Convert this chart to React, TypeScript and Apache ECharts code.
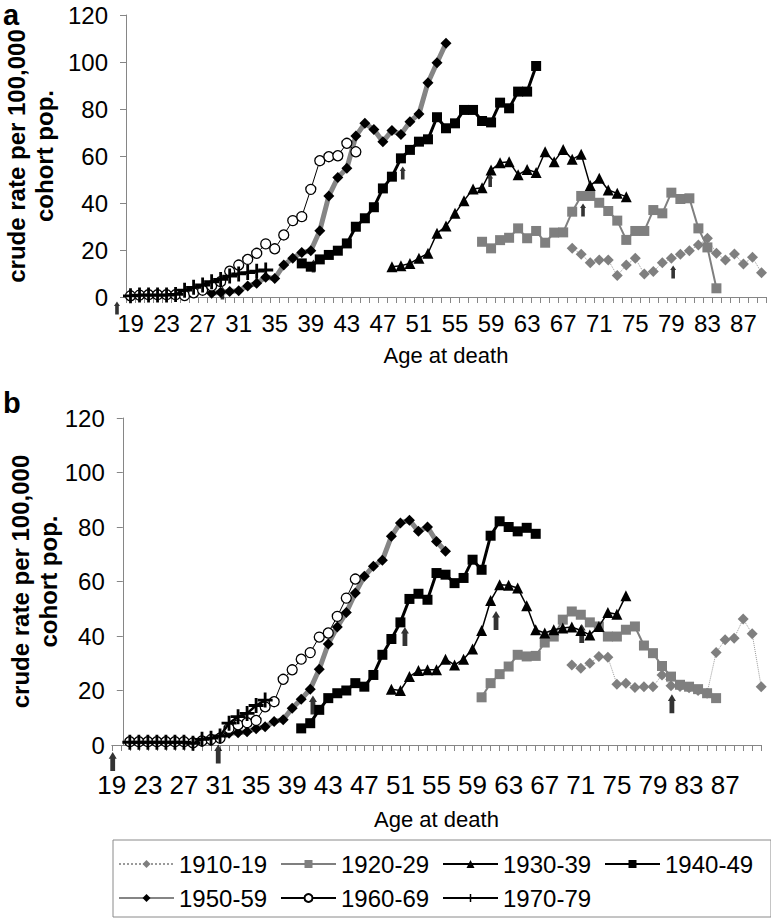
import React, { useEffect, useRef } from 'react';
import * as echarts from 'echarts';

// ---------- categories (ages at death) ----------
const agesA: string[] = [];
for (let a = 19; a <= 89; a++) agesA.push(String(a));
const agesB: string[] = [];
for (let a = 19; a <= 91; a++) agesB.push(String(a));
const LAST_LABEL = 87;

const cohorts = ['1910-19', '1920-29', '1930-39', '1940-49', '1950-59', '1960-69', '1970-79'];

// ---------- panel a ----------
const a1910Start = 68;
const a1910 = [20.7, 18.2, 14.6, 15.7, 15.7, 9.1, 13.6, 16.5, 9.8, 10.8, 14.6, 16.5, 18.2, 19.7, 22.1, 25, 18.6, 15.7, 18.3, 14, 16.9, 10.3];
const a1920Start = 58;
const a1920 = [23.5, 20.7, 24.2, 25.2, 29.2, 25, 28.1, 23.1, 27.4, 27.5, 36.3, 43, 43, 40.1, 36.6, 32.5, 24.3, 28.1, 28.1, 37, 35.6, 44.4, 41.7, 42, 29.2, 21.1, 3.7];
const a1930Start = 48;
const a1930 = [12.9, 13.3, 14.3, 16.5, 18.6, 27.1, 30.2, 35.6, 41, 46, 46.5, 54, 57.1, 57.6, 52, 54.3, 53, 61.8, 57.6, 62.8, 58.6, 60.7, 47.4, 50.5, 45.5, 44.1, 42.7];
const a1940Start = 38;
const a1940 = [14.3, 12.9, 16, 17.9, 19.7, 22.8, 29.9, 33.5, 38.2, 46.2, 51.2, 59, 62.6, 66.1, 67.1, 76.5, 71.8, 73.9, 79.6, 79.6, 74.9, 74.3, 82.7, 80.3, 87.4, 87.4, 98.3];
const a1950Start = 28;
const a1950 = [1.6, 2, 2.3, 2.7, 4.7, 5.8, 8.4, 7.9, 13.6, 16.5, 18.9, 19.7, 28.2, 43, 50.8, 54.8, 68.5, 73.9, 71.3, 66.1, 70.8, 69.2, 74.6, 77.9, 91.2, 99.7, 108];
const a1960Start = 19;
const a1960 = [0.5, 0.8, 1, 1, 1, 1, 0.6, 1.8, 2.9, 4.7, 6.5, 11, 13.6, 16, 18.6, 22.6, 20.5, 26.4, 32.5, 34.2, 45.8, 58, 59.7, 60.1, 65.4, 61.8];
const a1970Start = 19;
const a1970 = [0.5, 0.8, 0.8, 0.8, 0.8, 1.1, 2.9, 4.1, 5.1, 6.5, 7.5, 8.9, 9.8, 10.4, 11, 11.5];
const arrowAgesA = [17.5, 29.2, 39.3, 49.2, 58.9, 69.2, 79.2];
const arrowValsA = [-4.7, 1.7, 13.2, 52.8, 49.6, 37, 10.6];

// ---------- panel b ----------
const b1910Start = 70;
const b1910 = [29.4, 28.2, 30, 32.5, 32.2, 22.3, 22.7, 21.1, 21.4, 21.4, 25.7, 21.7, 21.5, 21, 20, 19, 33.9, 38.6, 39.2, 46.2, 40.8, 21.4];
const b1920Start = 60;
const b1920 = [17.5, 22.7, 26, 28.8, 33.1, 32.5, 32.7, 37.6, 39.8, 46, 49, 47.8, 45, 43.5, 39.8, 39.8, 42.3, 43.5, 36.5, 33.7, 29, 25.1, 22.1, 21.4, 20.5, 19, 17.2];
const b1930Start = 50;
const b1930 = [20.5, 20, 25.1, 27.3, 27.6, 27.6, 31.5, 29.4, 31.5, 35.2, 42, 53, 58.8, 58.6, 57.6, 51.1, 42.3, 41.1, 42.3, 42.9, 43.3, 42, 40.4, 43.5, 48.6, 48, 54.8];
const b1940Start = 40;
const b1940 = [6.1, 8, 12.9, 17.2, 19, 20, 22.7, 21.4, 25.7, 33.1, 38.9, 45, 53.6, 55.5, 53.3, 63.1, 62.5, 59.4, 61.3, 68, 64.3, 76.8, 82.1, 80, 78.4, 79.7, 77.5];
const b1950Start = 31;
const b1950 = [3, 4.3, 4.5, 4.9, 6, 6.7, 8.6, 9.3, 13.5, 16.8, 20.5, 27.8, 37.1, 43.3, 48.6, 55.8, 61.9, 65.6, 67.8, 76.6, 81.5, 82.5, 78.4, 80, 74.7, 71.1];
const b1960Start = 21;
const b1960 = [1.2, 1.2, 1.2, 1.2, 1.2, 1.2, 1.2, 0.8, 1.5, 2, 2.5, 6.1, 7.4, 8.2, 9, 14, 15.9, 24.1, 27.6, 31.5, 33.9, 39.6, 41.1, 47.2, 53.9, 60.9];
const b1970Start = 21;
const b1970 = [1, 1, 1, 1, 1, 1, 1, 0.6, 2.1, 2.5, 3.3, 8, 10.4, 11.6, 14.5, 16.5];
const arrowAgesB = [19.1, 30.8, 41.3, 51.5, 61.6, 71.1, 81.1];
const arrowValsB = [-6.1, -3.3, 14.7, 39.8, 45.7, 40.9, 15.1];

const panelA = [
  [a1910Start, a1910], [a1920Start, a1920], [a1930Start, a1930], [a1940Start, a1940],
  [a1950Start, a1950], [a1960Start, a1960], [a1970Start, a1970],
] as [number, number[]][];
const panelB = [
  [b1910Start, b1910], [b1920Start, b1920], [b1930Start, b1930], [b1940Start, b1940],
  [b1950Start, b1950], [b1960Start, b1960], [b1970Start, b1970],
] as [number, number[]][];

// ---------- styles ----------
const FONT = "'Liberation Sans', Arial, Helvetica, sans-serif";
const AXIS_GRAY = '#868686';
const GRAY = '#7f7f7f';
const PLUS = 'path://M6.1,0 H8.9 V6.1 H15 V8.9 H8.9 V15 H6.1 V8.9 H0 V6.1 H6.1 Z';
const ARROW = 'path://M3,0 L6,4.5 L4.8,4.5 L4.8,13 L1.2,13 L1.2,4.5 L0,4.5 Z';

const seriesStyles: any[] = [
  { line: { color: '#9a9a9a', width: 1, type: 'dotted' }, symbol: 'diamond', size: 11, item: { color: GRAY } },
  { line: { color: GRAY, width: 2 }, symbol: 'rect', size: 10, item: { color: GRAY } },
  { line: { color: '#000', width: 1.5 }, symbol: 'triangle', size: 11, item: { color: '#000' } },
  { line: { color: '#000', width: 3 }, symbol: 'rect', size: 10, item: { color: '#000' } },
  { line: { color: '#858585', width: 5 }, symbol: 'diamond', size: 11, item: { color: '#000' } },
  { line: { color: '#000', width: 1 }, symbol: 'circle', size: 10, item: { color: '#fff', borderColor: '#000', borderWidth: 1.3 } },
  { line: { color: '#000', width: 2.5 }, symbol: PLUS, size: 15, item: { color: '#000' } },
];

function pad(cats: string[], start: number, vals: number[]) {
  const first = Number(cats[0]);
  return cats.map((_, i) => {
    const k = i + first - start;
    return k >= 0 && k < vals.length ? vals[k] : null;
  });
}

function buildSeries(panel: [number, number[]][], cats: string[], xi: number, yi: number) {
  return panel.map(([start, vals], i) => {
    const s = seriesStyles[i];
    return {
      name: cohorts[i],
      type: 'line',
      xAxisIndex: xi,
      yAxisIndex: yi,
      data: pad(cats, start, vals),
      symbol: s.symbol,
      symbolSize: s.size,
      showAllSymbol: true,
      connectNulls: false,
      lineStyle: s.line,
      itemStyle: s.item,
      emphasis: { disabled: true },
      z: 2 + i,
    };
  });
}

function arrowSeries(ages: number[], vals: number[], xi: number, yi: number, size: number[]) {
  return {
    type: 'scatter',
    xAxisIndex: xi,
    yAxisIndex: yi,
    data: ages.map((a, i) => [a, vals[i]]),
    symbol: ARROW,
    symbolSize: size,
    itemStyle: { color: '#000' },
    clip: false,
    silent: true,
    z: 20,
  };
}

function yAxis(gridIndex: number, offset: number, nameGap: number) {
  return {
    type: 'value',
    gridIndex,
    min: 0,
    max: 120,
    interval: 20,
    offset,
    name: 'crude rate per 100,000\ncohort pop.',
    nameLocation: 'middle',
    nameRotate: 90,
    nameGap,
    nameMoveOverlap: false,
    nameTextStyle: { fontFamily: FONT, fontSize: 24, fontWeight: 'bold', color: '#000', lineHeight: 28 },
    axisLine: { show: true, onZero: false, lineStyle: { color: AXIS_GRAY, width: 1 } },
    axisTick: { show: true, length: 6, lineStyle: { color: AXIS_GRAY } },
    axisLabel: { fontFamily: FONT, fontSize: 24, color: '#000', margin: 18 },
    splitLine: { show: false },
  };
}

function catAxis(gridIndex: number, data: string[], boundaryGap: boolean, labelSize: number, labelMargin: number, nameGap: number) {
  return {
    type: 'category',
    gridIndex,
    data,
    boundaryGap,
    name: 'Age at death',
    nameLocation: 'middle',
    nameGap,
    nameMoveOverlap: false,
    nameTextStyle: { fontFamily: FONT, fontSize: 22, color: '#000' },
    axisLine: { show: true, onZero: false, lineStyle: { color: AXIS_GRAY, width: 1 } },
    axisTick: { show: true, interval: 0, length: 6, lineStyle: { color: AXIS_GRAY } },
    axisLabel: {
      interval: (i: number, v: string) => i % 4 === 0 && Number(v) <= LAST_LABEL,
      fontFamily: FONT,
      fontSize: labelSize,
      color: '#000',
      margin: labelMargin,
    },
    splitLine: { show: false },
  };
}

const option: any = {
  animation: false,
  backgroundColor: '#fff',
  textStyle: { fontFamily: FONT },
  grid: [
    { left: 126, top: 15, width: 640, height: 282, outerBoundsMode: 'none', containLabel: false },
    { left: 111.8, top: 418, width: 649.4, height: 327, outerBoundsMode: 'none', containLabel: false },
  ],
  xAxis: [
    catAxis(0, agesA, true, 24, 14, 47),
    { type: 'value', gridIndex: 0, min: 18.5, max: 89.5, show: false },
    catAxis(1, agesB, false, 26, 27, 63),
    { type: 'value', gridIndex: 1, min: 19, max: 91, show: false },
  ],
  yAxis: [yAxis(0, 0, 68), yAxis(1, -11, 60)],
  legend: {
    data: cohorts,
    left: 113,
    top: 840,
    width: 680,
    orient: 'horizontal',
    itemWidth: 55,
    itemHeight: 10,
    itemGap: 8,
    padding: [11, 13, 6, 5],
    borderColor: '#8a8a8a',
    borderWidth: 1,
    selectedMode: false,
    textStyle: { fontFamily: FONT, fontSize: 24, color: '#000', width: 93, lineHeight: 26 },
  },
  graphic: [
    { type: 'text', left: 3, top: 0, style: { text: 'a', font: `bold 29px ${FONT}`, fill: '#000' } },
    { type: 'text', left: 3, top: 388, style: { text: 'b', font: `bold 29px ${FONT}`, fill: '#000' } },
  ],
  series: [
    ...buildSeries(panelA, agesA, 0, 0),
    ...buildSeries(panelB, agesB, 2, 1),
    arrowSeries(arrowAgesA, arrowValsA, 1, 0, [6, 13]),
    arrowSeries(arrowAgesB, arrowValsB, 3, 1, [8, 19]),
  ],
};

export default function App() {
  const ref = useRef<HTMLDivElement>(null);
  useEffect(() => {
    if (!ref.current) return;
    const chart = echarts.init(ref.current, null, { renderer: 'svg' });
    chart.setOption(option);
    return () => chart.dispose();
  }, []);
  return <div ref={ref} style={{ position: 'absolute', left: 0, top: 0, width: 771, height: 920 }} />;
}
